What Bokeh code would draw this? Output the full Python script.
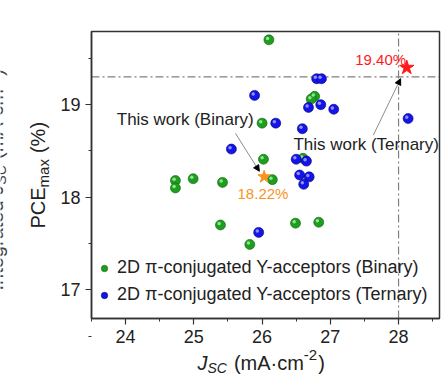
import math
from bokeh.plotting import figure
from bokeh.models import (Range1d, FixedTicker, Label, Arrow, NormalHead, BoxAnnotation,
                          Legend, LegendItem, ColumnDataSource)
from bokeh.transform import dodge
from bokeh.embed import file_html
from bokeh.resources import INLINE

# ---------------- data ----------------
binary_jsc = [26.10, 26.77, 26.72, 26.00, 26.02, 26.15, 24.73, 24.73, 24.99,
              25.42, 25.39, 25.82, 26.49, 26.83, 26.60]
binary_pce = [19.70, 19.09, 19.06, 18.80, 18.41, 18.19, 18.18, 18.10, 18.20,
              18.16, 17.70, 17.49, 17.72, 17.73, 18.42]

ternary_jsc = [26.80, 26.87, 25.89, 26.68, 26.86, 27.05, 26.20, 26.59, 28.14,
               25.55, 26.50, 26.65, 26.55, 26.69, 26.61, 25.95]
ternary_pce = [19.28, 19.28, 19.10, 18.97, 19.00, 18.95, 18.80, 18.74, 18.85,
               18.52, 18.41, 18.39, 18.24, 18.22, 18.14, 17.62]

this_work_labels = ["This work (Binary)", "This work (Ternary)"]
this_work_jsc = [26.03, 28.12]
this_work_pce = [18.22, 19.40]

ref_jsc = 28.0
ref_pce = 19.3

x_ticks = [24, 25, 26, 27, 28]
y_ticks = [17, 18, 19]

legend_labels = ["2D \u03c0-conjugated Y-acceptors (Binary)",
                 "2D \u03c0-conjugated Y-acceptors (Ternary)"]

# ---------------- style ----------------
FONT = "Liberation Sans"
DARK = "#333333"
GREEN, GREEN_EDGE, GREEN_HI = "#1f9d1f", "#0c650c", "#a8eda8"
BLUE, BLUE_EDGE, BLUE_HI = "#1414e8", "#00007a", "#a4a4ff"
STAR_COLORS = ["#f7931e", "#ff1a1a"]

WIDTH, HEIGHT = 447, 377
X0, X1, Y0, Y1 = 23.5, 28.6, 16.69, 19.79      # axis box limits
FL, FT, FW, FH = 91, 31, 348, 287               # axis box position (px)
sx_ = (X1 - X0) / FW
sy_ = (Y1 - Y0) / FH
# plotting frame covers the whole canvas so titles outside the box are not clipped
XR = (X0 - FL * sx_, X1 + (WIDTH - FL - FW) * sx_)
YR = (Y0 - (HEIGHT - FT - FH) * sy_, Y1 + FT * sy_)

W = {' ': 278, '(': 333, ')': 333, '%': 889, '-': 333, '.': 278, '\u00b7': 278,
     '2': 556, 'A': 667, 'C': 722, 'E': 667, 'I': 278, 'J': 500, 'P': 667,
     'S': 667, 'a': 556, 'c': 500, 'd': 556, 'e': 556, 'g': 556, 'm': 833,
     'n': 556, 'r': 333, 't': 278, 'x': 500}


def tw(s, size):
    return sum(W.get(ch, 556) for ch in s) / 1000.0 * size


p = figure(width=WIDTH, height=HEIGHT,
           x_range=Range1d(*XR), y_range=Range1d(*YR),
           output_backend="svg", toolbar_location=None,
           min_border=0, min_border_left=0, min_border_right=0,
           min_border_top=0, min_border_bottom=0)
p.grid.visible = False
p.background_fill_color = "white"
p.border_fill_color = "white"
p.outline_line_color = None

p.xaxis.ticker = FixedTicker(ticks=x_ticks,
                             minor_ticks=[t + 0.5 for t in x_ticks] + [x_ticks[0] - 0.5])
p.yaxis.ticker = FixedTicker(ticks=y_ticks,
                             minor_ticks=[t + 0.5 for t in y_ticks] + [y_ticks[0] - 0.5])
p.xaxis.fixed_location = Y0
p.yaxis.fixed_location = X0
p.xaxis.bounds = (X0, X1)
p.yaxis.bounds = (Y0, Y1)
for ax in (p.xaxis[0], p.yaxis[0]):
    ax.axis_line_color = DARK
    ax.axis_line_width = 1.5
    ax.major_tick_line_color = DARK
    ax.minor_tick_line_color = DARK
    ax.major_tick_line_width = 1.2
    ax.minor_tick_line_width = 1.0
    ax.major_tick_out = 6
    ax.major_tick_in = 0
    ax.minor_tick_out = 3
    ax.minor_tick_in = 0
    ax.major_label_text_font = FONT
    ax.major_label_text_font_size = "18px"
    ax.major_label_text_color = "#222222"
    ax.major_label_standoff = 5

# axis box
p.add_layout(BoxAnnotation(left=X0, right=X1, bottom=Y0, top=Y1, fill_alpha=0,
                           line_color=DARK, line_width=1.5, line_alpha=1))

# reference dash-dot lines
p.segment(x0=[X0, ref_jsc], y0=[ref_pce, Y0], x1=[X1, ref_jsc], y1=[ref_pce, Y1],
          line_color="#808080", line_width=1.2, line_dash="8 3 2 3")

# spheres
src_b = ColumnDataSource(dict(x=binary_jsc, y=binary_pce))
src_t = ColumnDataSource(dict(x=ternary_jsc, y=ternary_pce))
r_b = p.scatter("x", "y", source=src_b, size=10, fill_color=GREEN,
                line_color=GREEN_EDGE, line_width=0.6)
p.scatter(x=dodge("x", -0.02), y=dodge("y", 0.015), source=src_b, size=3.5,
          fill_color=GREEN_HI, line_color=None, fill_alpha=0.85)
r_t = p.scatter("x", "y", source=src_t, size=10, fill_color=BLUE,
                line_color=BLUE_EDGE, line_width=0.6)
p.scatter(x=dodge("x", -0.02), y=dodge("y", 0.015), source=src_t, size=3.5,
          fill_color=BLUE_HI, line_color=None, fill_alpha=0.85)

# this-work stars
src_s = ColumnDataSource(dict(x=this_work_jsc, y=this_work_pce,
                              color=STAR_COLORS, size=[13, 15]))
p.scatter("x", "y", source=src_s, marker="star", size="size",
          fill_color="color", line_color="color")

# value labels near stars
(bx, tx), (by, ty) = this_work_jsc, this_work_pce
p.add_layout(Label(x=bx - 0.39, y=by - 0.18, text=f"{by:.2f}%",
                   text_font=FONT, text_font_size="15px", text_color=STAR_COLORS[0],
                   text_baseline="middle", text_align="left"))
p.add_layout(Label(x=tx - 0.01, y=ty + 0.09, text=f"{ty:.2f}%",
                   text_font=FONT, text_font_size="15px", text_color=STAR_COLORS[1],
                   text_baseline="middle", text_align="right"))

# "This work" labels + arrows
p.add_layout(Label(x=23.87, y=18.84, text=this_work_labels[0], text_font=FONT,
                   text_font_size="17px", text_color="#222222",
                   text_baseline="middle", text_align="left"))
p.add_layout(Label(x=26.46, y=18.57, text=this_work_labels[1], text_font=FONT,
                   text_font_size="17px", text_color="#222222",
                   text_baseline="middle", text_align="left"))
p.add_layout(Arrow(x_start=25.61, y_start=18.69, x_end=bx - 0.07, y_end=by + 0.06,
                   line_color="#8c8c8c", line_width=1,
                   end=NormalHead(size=6, fill_color="black", line_color="black")))
p.add_layout(Arrow(x_start=27.63, y_start=18.67, x_end=tx - 0.09, y_end=ty - 0.12,
                   line_color="#8c8c8c", line_width=1,
                   end=NormalHead(size=6, fill_color="black", line_color="black")))

# legend (location relative to the canvas-wide frame)
legend = Legend(items=[LegendItem(label=legend_labels[0], renderers=[r_b]),
                       LegendItem(label=legend_labels[1], renderers=[r_t])],
                location=(FL + 5, HEIGHT - FT - FH + 13),
                glyph_width=16, glyph_height=16,
                label_height=16, spacing=6, padding=0, margin=0,
                label_standoff=5, label_text_font=FONT,
                label_text_font_size="18px", label_text_color="#222222",
                border_line_alpha=0, background_fill_alpha=0)
p.add_layout(legend)


# composite axis titles (sub/superscripts) as real text, in canvas pixels
# piece = (text, font px, style, baseline shift, gap before)
def hlabel(pieces, ax, ay, color="#222222"):
    cur = float(ax)
    for text, size, style, dy, gap in pieces:
        cur += gap
        p.add_layout(Label(x=cur, y=HEIGHT - ay + dy, x_units="screen",
                           y_units="screen", level="overlay",
                           text=text, text_font=FONT, text_font_size=f"{size}px",
                           text_font_style=style, text_color=color,
                           text_align="left", text_baseline="alphabetic"))
        cur += tw(text, size)


def vlabel(pieces, ax, ay, color="#222222"):
    cur = float(HEIGHT - ay)
    for text, size, style, dx, gap in pieces:
        cur += gap
        p.add_layout(Label(x=ax + dx, y=cur, x_units="screen", y_units="screen",
                           level="overlay",
                           text=text, text_font=FONT, text_font_size=f"{size}px",
                           text_font_style=style, text_color=color,
                           angle=math.pi / 2,
                           text_align="left", text_baseline="alphabetic"))
        cur += tw(text, size)


hlabel([("J", 20, "italic", 0, 0), ("SC", 14, "italic", -5, 0),
        ("(mA\u00b7cm", 20, "normal", 0, 7), ("-2", 15, "normal", 8, 1),
        (")", 20, "normal", 0, 1)], 197, 362)
vlabel([("PCE", 20, "normal", 0, 0), ("max", 15, "normal", 6, 0),
        ("(%)", 20, "normal", 0, 6)], 37, 228)
# cropped title of the neighbouring panel at the left edge
vlabel([("Integrated", 20, "normal", 0, 0), ("J", 20, "italic", 0, 6),
        ("SC", 14, "italic", 5, 0), ("(mA\u00b7cm", 20, "normal", 0, 6),
        ("-2", 14, "normal", -8, 1), (")", 20, "normal", 0, 1)], -5, 290,
       color="#444444")

open("out.html", "w").write(file_html(p, INLINE))
